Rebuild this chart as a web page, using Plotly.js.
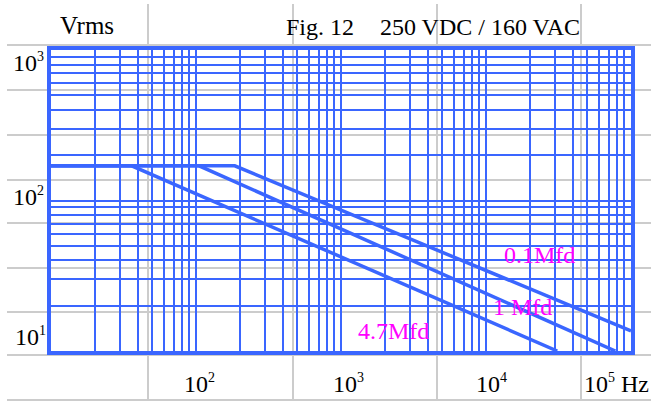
<!DOCTYPE html>
<html>
<head>
<meta charset="utf-8">
<script src="https://cdn.plot.ly/plotly-3.0.1.min.js"></script>
<style>html,body{margin:0;padding:0;background:#fff;}#chart{width:651px;height:401px;}</style>
</head>
<body>
<div id="chart"></div>
<script>
// ---- data ----
const seriesNames = ["4.7Mfd", "1 Mfd", "0.1Mfd"];
const freq47 = [10, 36, 31000];
const volt47 = [170, 170, 10];
const freq1 = [10, 105, 78000];
const volt1 = [170, 170, 10];
const freq01 = [10, 185, 100000];
const volt01 = [170, 170, 13.6];
const xTickBase = ["10", "10", "10", "10"];
const xTickExp = ["2", "3", "4", "5"];
const xUnit = "Hz";
const yTickBase = ["10", "10", "10"];
const yTickExp = ["3", "2", "1"];
const yTitle = "Vrms";
const figTitle = "Fig. 12";
const ratingTitle = "250 VDC / 160 VAC";

// ---- layout helpers ----
const W = 651, H = 401;
const M = {l: 51, r: 20, t: 50, b: 50};
const PW = W - M.l - M.r, PH = H - M.t - M.b;
const px = x => (x - M.l) / PW;
const py = y => (H - M.b - y) / PH;

const BLUE = "#3a66ff";
const GRAY = "rgb(204,204,204)";
const MAG = "#ff00ff";
const FONT = "Liberation Serif, Times New Roman, serif";

const curveStyle = {color: BLUE, width: 3.5};
const traces = [
  {x: freq47, y: volt47, name: seriesNames[0], mode: "lines", line: curveStyle, hoverinfo: "skip"},
  {x: freq1, y: volt1, name: seriesNames[1], mode: "lines", line: curveStyle, hoverinfo: "skip"},
  {x: freq01, y: volt01, name: seriesNames[2], mode: "lines", line: curveStyle, hoverinfo: "skip"}
];

// gray table lines
const shapes = [];
[148, 293, 437, 581].forEach(x => shapes.push({
  type: "line", xref: "paper", yref: "paper", layer: "below",
  x0: px(x), x1: px(x), y0: py(4), y1: py(401), line: {color: GRAY, width: 2}
}));
[45, 90, 135, 180, 223, 268, 312, 355, 400].forEach(y => shapes.push({
  type: "line", xref: "paper", yref: "paper", layer: "below",
  x0: px(7), x1: px(651), y0: py(y), y1: py(y), line: {color: GRAY, width: 2}
}));

const ann = (text, x, y, size, color) => ({
  text: text, xref: "paper", yref: "paper", x: px(x), y: py(y),
  xanchor: "left", yanchor: "middle", showarrow: false,
  font: {family: FONT, size: size, color: color || "#000"}
});
const pow = (b, e) => b + '<sup><span style="font-size:14px">' + e + '</span></sup>';

const annotations = [
  ann(yTitle, 58, 25, 25),
  ann(figTitle, 284, 27, 24),
  ann(ratingTitle, 378, 27, 24),
  ann(pow(yTickBase[0], yTickExp[0]), 11, 63, 24),
  ann(pow(yTickBase[1], yTickExp[1]), 11, 196, 24),
  ann(pow(yTickBase[2], yTickExp[2]), 13, 336, 24),
  ann(pow(xTickBase[0], xTickExp[0]), 182, 383, 24),
  ann(pow(xTickBase[1], xTickExp[1]), 331, 383, 24),
  ann(pow(xTickBase[2], xTickExp[2]), 474, 383, 24),
  ann(pow(xTickBase[3], xTickExp[3]) + " " + xUnit, 582, 383, 24),
  ann(seriesNames[2], 502, 255, 24, MAG),
  ann(seriesNames[1], 491, 307, 24, MAG),
  ann(seriesNames[0], 356, 331, 24, MAG)
];

const axisCommon = {
  type: "log", dtick: "D1", showgrid: true, gridcolor: BLUE, gridwidth: 2,
  showline: true, mirror: true, linecolor: BLUE, linewidth: 4,
  showticklabels: false, ticks: "", zeroline: false, fixedrange: true
};

const layout = {
  width: W, height: H,
  margin: {l: M.l, r: M.r, t: M.t, b: M.b, pad: 0},
  paper_bgcolor: "#fff", plot_bgcolor: "rgba(0,0,0,0)",
  showlegend: false, hovermode: false,
  xaxis: Object.assign({}, axisCommon, {range: [1, 5]}),
  yaxis: Object.assign({}, axisCommon, {range: [1, 3]}),
  shapes: shapes,
  annotations: annotations
};

Plotly.newPlot("chart", traces, layout, {displayModeBar: false});
</script>
</body>
</html>
